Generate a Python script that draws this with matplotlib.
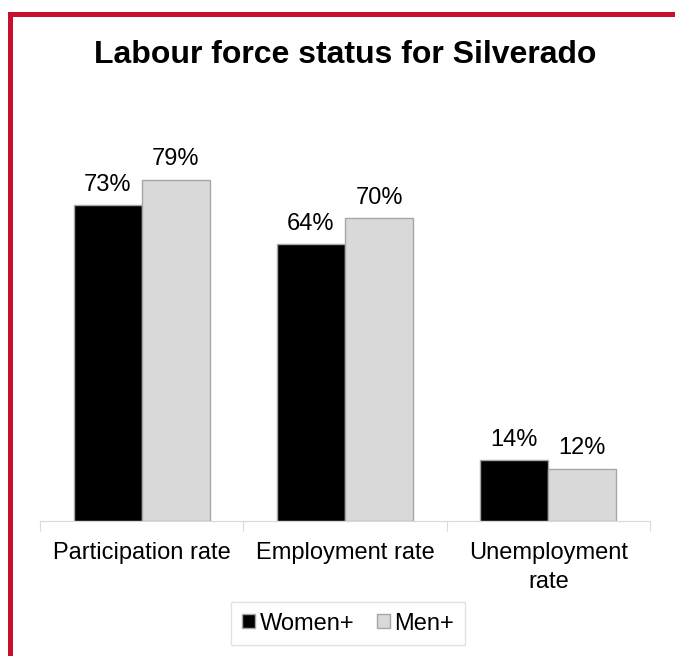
import matplotlib
matplotlib.use("Agg")
from matplotlib import pyplot as plt
from matplotlib.lines import Line2D
import numpy as np

plt.rcParams['font.family'] = ['Liberation Sans', 'DejaVu Sans']

categories = ["Participation rate", "Employment rate", "Unemployment\nrate"]
women = [73, 64, 14]
men = [79, 70, 12]
series_names = ["Women+", "Men+"]

fig = plt.figure(figsize=(6.75, 6.56), dpi=100)
ax = fig.add_axes([0.0593, 0.2058, 0.9037, 0.593])

x = np.arange(len(categories))
w = 0.335
b1 = ax.bar(x - w/2, women, w, color='black', edgecolor='#A6A6A6', linewidth=1, label=series_names[0])
b2 = ax.bar(x + w/2, men, w, color='#D9D9D9', edgecolor='#A6A6A6', linewidth=1, label=series_names[1])

# value labels above bars
for bars, vals in ((b1, women), (b2, men)):
    for rect, v in zip(bars, vals):
        ax.annotate(f"{v}%", (rect.get_x() + rect.get_width()/2, rect.get_height()),
                    xytext=(0, 7), textcoords='offset points', ha='center', va='bottom', fontsize=17)

ax.set_xlim(-0.5, 2.5)
ax.set_ylim(0, 90)
ax.set_yticks([])
for s in ['top', 'right', 'left']:
    ax.spines[s].set_visible(False)
ax.spines['bottom'].set_color('#D9D9D9')
ax.set_xticks([-0.5, 0.5, 1.5, 2.5])
ax.set_xticklabels([])
ax.set_xticks(x, minor=True)
ax.set_xticklabels(categories, minor=True, fontsize=17, linespacing=1.45)
ax.tick_params(axis='x', which='major', length=7, color='#D9D9D9', direction='out')
ax.tick_params(axis='x', which='minor', length=0, pad=15)

fig.text(0.511, 0.916, "Labour force status for Silverado", ha='center', va='center',
         fontsize=23, fontweight='bold')

leg = ax.legend(loc='upper center', bbox_to_anchor=(0.505, -0.208), ncol=2, fontsize=17,
                frameon=True, fancybox=False, edgecolor='#D9D9D9', handlelength=0.55,
                handleheight=0.55, handletextpad=0.2, columnspacing=0.95, borderpad=0.45,
                borderaxespad=0.0)

# red frame on top and left
red = '#C8102E'
fig.add_artist(Line2D([0.0148, 1.0], [0.9787, 0.9787], color=red, linewidth=3.6, transform=fig.transFigure))
fig.add_artist(Line2D([0.0148, 0.0148], [0.0, 0.9787], color=red, linewidth=3.6, transform=fig.transFigure,
                      solid_capstyle='projecting'))

fig.savefig("out.png", dpi=100)
